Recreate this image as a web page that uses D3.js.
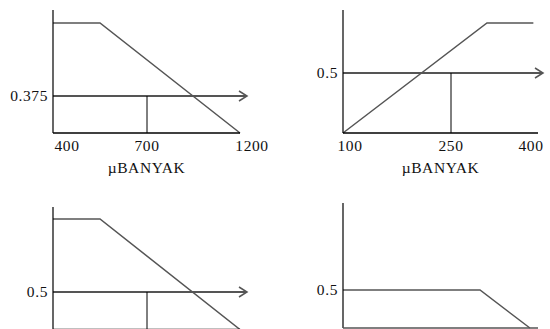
<!DOCTYPE html>
<html>
<head>
<meta charset="utf-8">
<script src="https://cdn.jsdelivr.net/npm/d3@7"></script>
<style>
  body { margin: 0; background: #fff; }
  text { font-family: "Liberation Serif", "Times New Roman", serif; font-size: 15.5px; fill: #111; letter-spacing: 0.6px; }
</style>
</head>
<body>
<div id="chart-area"></div>
<script>
// Chart values
var p1Ticks = [400, 700, 1200];
var p1CurveX = [400, 550, 1200];
var p1CurveY = [1, 1, 0];
var p1Input = 700;
var p1Alpha = 0.375;

var p2Ticks = [100, 250, 400];
var p2CurveX = [100, 312, 392];
var p2CurveY = [0, 1, 1];
var p2Input = 250;
var p2Alpha = 0.5;

var p3Ticks = [400, 700, 1200];
var p3CurveX = [400, 550, 1200];
var p3CurveY = [1, 1, 0];
var p3Input = 700;
var p3Alpha = 0.5;

var p4Ticks = [100, 250, 400];
var p4CurveX = [100, 300, 386];
var p4CurveY = [0.5, 0.5, 0];
var p4Alpha = 0.5;

var axisTitle = "\u00b5BANYAK";

var width = 550;
var height = 329;

var svg = d3.select("#chart-area")
    .append("svg")
    .attr("width", width)
    .attr("height", height);

// panel layout: x positions of ticks, y positions for 0 / alpha / 1
var panels = [
    { ticks: p1Ticks, cx: p1CurveX, cy: p1CurveY, input: p1Input, alpha: p1Alpha,
      xr: [53, 147, 240], yd: [0, p1Alpha, 1], yr: [133, 96, 23], top: 10,
      title: true, tickShift: [14, 0, 12], tip: 7, baseColor: "#000" },
    { ticks: p2Ticks, cx: p2CurveX, cy: p2CurveY, input: p2Input, alpha: p2Alpha,
      xr: [343, 451, 538], yd: [0, p2Alpha, 1], yr: [133, 73, 23], top: 10,
      title: true, tickShift: [7, 0, -7], tip: 5, baseColor: "#000" },
    { ticks: p3Ticks, cx: p3CurveX, cy: p3CurveY, input: p3Input, alpha: p3Alpha,
      xr: [53, 147, 240], yd: [0, p3Alpha, 1], yr: [329.5, 292, 219], top: 207,
      title: false, tip: 7, baseColor: "#000" },
    { ticks: p4Ticks, cx: p4CurveX, cy: p4CurveY, input: null, alpha: p4Alpha,
      xr: [343, 451, 538], yd: [0, p4Alpha, 1], yr: [328, 290, 252], top: 203,
      title: false, tip: 5, baseColor: "#555" }
];

panels.forEach(function(p) {
    var x = d3.scaleLinear().domain(p.ticks).range(p.xr);
    var y = d3.scaleLinear().domain(p.yd).range(p.yr);
    var g = svg.append("g");
    var x0 = x(p.ticks[0]);
    var xEnd = x(p.ticks[2]);
    var y0 = y(0);

    // membership curve
    var pts = p.cx.map(function(v, i) { return [x(v), y(p.cy[i])]; });
    g.append("path")
        .attr("d", d3.line()(pts))
        .attr("fill", "none")
        .attr("stroke", "#555")
        .attr("stroke-width", 1.5);

    // alpha cut arrow (only panels with an input)
    var ya = y(p.alpha);
    if (p.input !== null) {
        var tip = xEnd + p.tip;
        g.append("line")
            .attr("x1", x0).attr("x2", tip)
            .attr("y1", ya).attr("y2", ya)
            .attr("stroke", "#555").attr("stroke-width", 2);
        g.append("path")
            .attr("d", "M" + (tip - 8) + "," + (ya - 5) + "L" + tip + "," + ya + "L" + (tip - 8) + "," + (ya + 5))
            .attr("fill", "none")
            .attr("stroke", "#555").attr("stroke-width", 1.5);
        g.append("line")
            .attr("x1", x(p.input)).attr("x2", x(p.input))
            .attr("y1", ya).attr("y2", y0)
            .attr("stroke", "#000").attr("stroke-width", 1);
    }

    // axes
    g.append("line")
        .attr("x1", x0).attr("x2", x0)
        .attr("y1", p.top).attr("y2", y0)
        .attr("stroke", "#000").attr("stroke-width", 1.2);
    g.append("line")
        .attr("x1", x0).attr("x2", xEnd)
        .attr("y1", y0).attr("y2", y0)
        .attr("stroke", p.baseColor).attr("stroke-width", 1.5);

    // alpha label
    g.append("text")
        .attr("x", x0 - 5)
        .attr("y", ya)
        .attr("dy", "0.35em")
        .attr("text-anchor", "end")
        .text(p.alpha);

    if (p.title) {
        g.selectAll(".tick")
            .data(p.ticks)
            .enter()
            .append("text")
            .attr("x", function(d, i) { return x(d) + p.tickShift[i]; })
            .attr("y", y0 + 13)
            .attr("dy", "0.35em")
            .attr("text-anchor", "middle")
            .text(function(d) { return d; });
        g.append("text")
            .attr("x", (x0 + xEnd) / 2)
            .attr("y", y0 + 35)
            .attr("dy", "0.35em")
            .attr("text-anchor", "middle")
            .text(axisTitle);
    }
});
</script>
</body>
</html>
